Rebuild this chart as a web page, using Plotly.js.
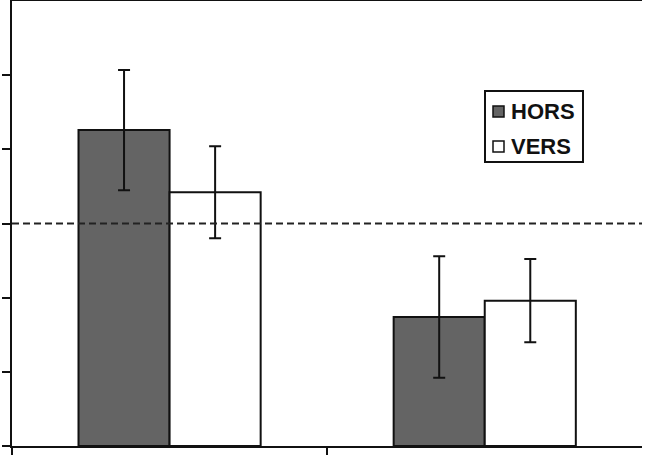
<!DOCTYPE html>
<html>
<head>
<meta charset="utf-8">
<script src="https://cdn.plot.ly/plotly-3.0.1.min.js"></script>
<style>
html,body{margin:0;padding:0;background:#fff;}
#chart{width:653px;height:462px;}
</style>
</head>
<body>
<div id="chart"></div>
<script>
// Data
var categories = ['A', 'B'];
var seriesNames = ['HORS', 'VERS'];
var seriesColors = ['#646464', '#ffffff'];
var horsValues = [4.26, 1.74];
var horsErrors = [0.81, 0.82];
var versValues = [3.42, 1.96];
var versErrors = [0.62, 0.56];
var yTickVals = [0, 1, 2, 3, 4, 5];
var referenceLevel = 3;

var W = 653, H = 462;
var M = {l: 12, r: 11, t: 1, b: 16};
var PW = W - M.l - M.r, PH = H - M.t - M.b;
function px(x) { return (x - M.l) / PW; }
function py(y) { return (H - M.b - y) / PH; }

var errStyle = {type: 'data', visible: true, color: '#111', thickness: 2, width: 6};

var traces = [
  {
    type: 'bar', name: seriesNames[0], x: categories, y: horsValues,
    marker: {color: seriesColors[0], line: {color: '#111', width: 2}},
    error_y: Object.assign({array: horsErrors}, errStyle)
  },
  {
    type: 'bar', name: seriesNames[1], x: categories, y: versValues,
    marker: {color: seriesColors[1], line: {color: '#111', width: 2}},
    error_y: Object.assign({array: versErrors}, errStyle)
  }
];

var legendFont = {family: 'Liberation Sans, Arial, sans-serif', size: 22, color: '#111', weight: 'bold'};

var layout = {
  width: W, height: H,
  margin: {l: M.l, r: M.r, t: M.t, b: M.b, pad: 0},
  paper_bgcolor: '#fff', plot_bgcolor: '#fff',
  barmode: 'group', bargap: 0.422, bargroupgap: 0,
  showlegend: false,
  xaxis: {
    type: 'category', range: [-0.5, 1.499],
    showline: true, linecolor: '#111', linewidth: 2, mirror: true,
    ticks: 'outside', tickson: 'boundaries', ticklen: 7, tickwidth: 2, tickcolor: '#111',
    showticklabels: false, showgrid: false, zeroline: false, fixedrange: true
  },
  yaxis: {
    range: [0, 6], tickmode: 'array', tickvals: yTickVals,
    showline: true, linecolor: '#111', linewidth: 2,
    ticks: 'outside', ticklen: 8, tickwidth: 2, tickcolor: '#111',
    showticklabels: false, showgrid: false, zeroline: false, fixedrange: true
  },
  shapes: [
    {
      type: 'line', xref: 'paper', x0: 0, x1: 1, yref: 'y', y0: referenceLevel, y1: referenceLevel,
      line: {color: '#222', width: 2, dash: '7px,4px'}, layer: 'above'
    },
    // legend box
    {
      type: 'rect', xref: 'paper', yref: 'paper',
      x0: px(485), x1: px(583), y0: py(162), y1: py(91),
      fillcolor: '#fff', line: {color: '#111', width: 2}, layer: 'above'
    },
    // legend symbols
    {
      type: 'rect', xref: 'paper', yref: 'paper',
      x0: px(493), x1: px(504), y0: py(117), y1: py(106),
      fillcolor: seriesColors[0], line: {color: '#111', width: 1.5}, layer: 'above'
    },
    {
      type: 'rect', xref: 'paper', yref: 'paper',
      x0: px(493), x1: px(504), y0: py(152), y1: py(141),
      fillcolor: seriesColors[1], line: {color: '#111', width: 1.5}, layer: 'above'
    }
  ],
  annotations: [
    {
      xref: 'paper', yref: 'paper', x: px(509), y: py(111.5), xanchor: 'left', yanchor: 'middle',
      text: seriesNames[0], showarrow: false, font: legendFont
    },
    {
      xref: 'paper', yref: 'paper', x: px(509), y: py(146), xanchor: 'left', yanchor: 'middle',
      text: seriesNames[1], showarrow: false, font: legendFont
    }
  ]
};

Plotly.newPlot('chart', traces, layout, {displayModeBar: false, staticPlot: true});
</script>
</body>
</html>
